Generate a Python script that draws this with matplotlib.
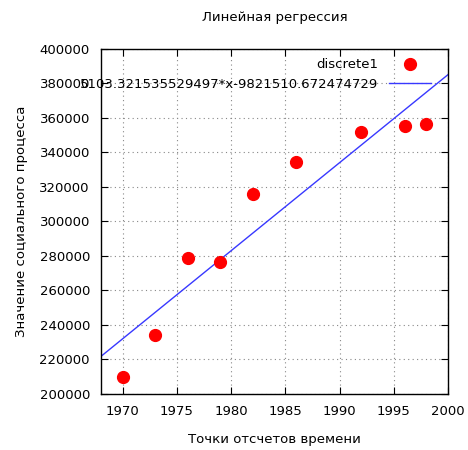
import matplotlib
matplotlib.use("Agg")
import matplotlib.pyplot as plt
import numpy as np

years = [1970, 1973, 1976, 1979, 1982, 1986, 1992, 1996, 1998]
values = [210000, 234000, 279000, 276500, 316000, 334500, 352000, 355500, 356500]
slope = 5103.321535529497
intercept = -9821510.672474729
x_ticks = [1970, 1975, 1980, 1985, 1990, 1995, 2000]
y_ticks = [200000, 220000, 240000, 260000, 280000, 300000, 320000, 340000, 360000, 380000, 400000]

plt.rcParams['font.family'] = ['DejaVu Sans']
fig = plt.figure(figsize=(4.68, 4.5), dpi=100)
ax = fig.add_axes([101/468, 1-394/450, (448-101)/468, (394-49)/450])

ax.plot(years, values, 'o', color='red', markersize=8.5, label='discrete1', zorder=3)
xl = np.array([1968, 2000])
ax.plot(xl, slope*xl + intercept, color='#3838ff', lw=1.0,
        label=f'{slope}*x{intercept}', zorder=2)

ax.set_xlim(1968, 2000)
ax.set_ylim(200000, 400000)
ax.set_xticks(x_ticks)
ax.set_yticks(y_ticks)
ax.tick_params(direction='in', top=True, right=True, labelsize=9.5, length=5, pad=8)
ax.grid(True, linestyle=(0, (1, 3)), color='#888888', lw=0.8)
for s in ax.spines.values():
    s.set_linewidth(1.0)
ax.set_title('Линейная регрессия', fontsize=9.5, pad=20)
ax.set_xlabel('Точки отсчетов времени', fontsize=9.5, labelpad=11)
ax.set_ylabel('Значение социального процесса', fontsize=9.5, labelpad=8)
leg = ax.legend(loc='upper right', bbox_to_anchor=(0.977, 1.0), markerfirst=False,
                frameon=False, fontsize=9.5, borderaxespad=0.3, handlelength=3.2,
                labelspacing=0.5)
for t in leg.get_texts():
    t.set_ha('right')
fig.savefig('out.png', dpi=100)
